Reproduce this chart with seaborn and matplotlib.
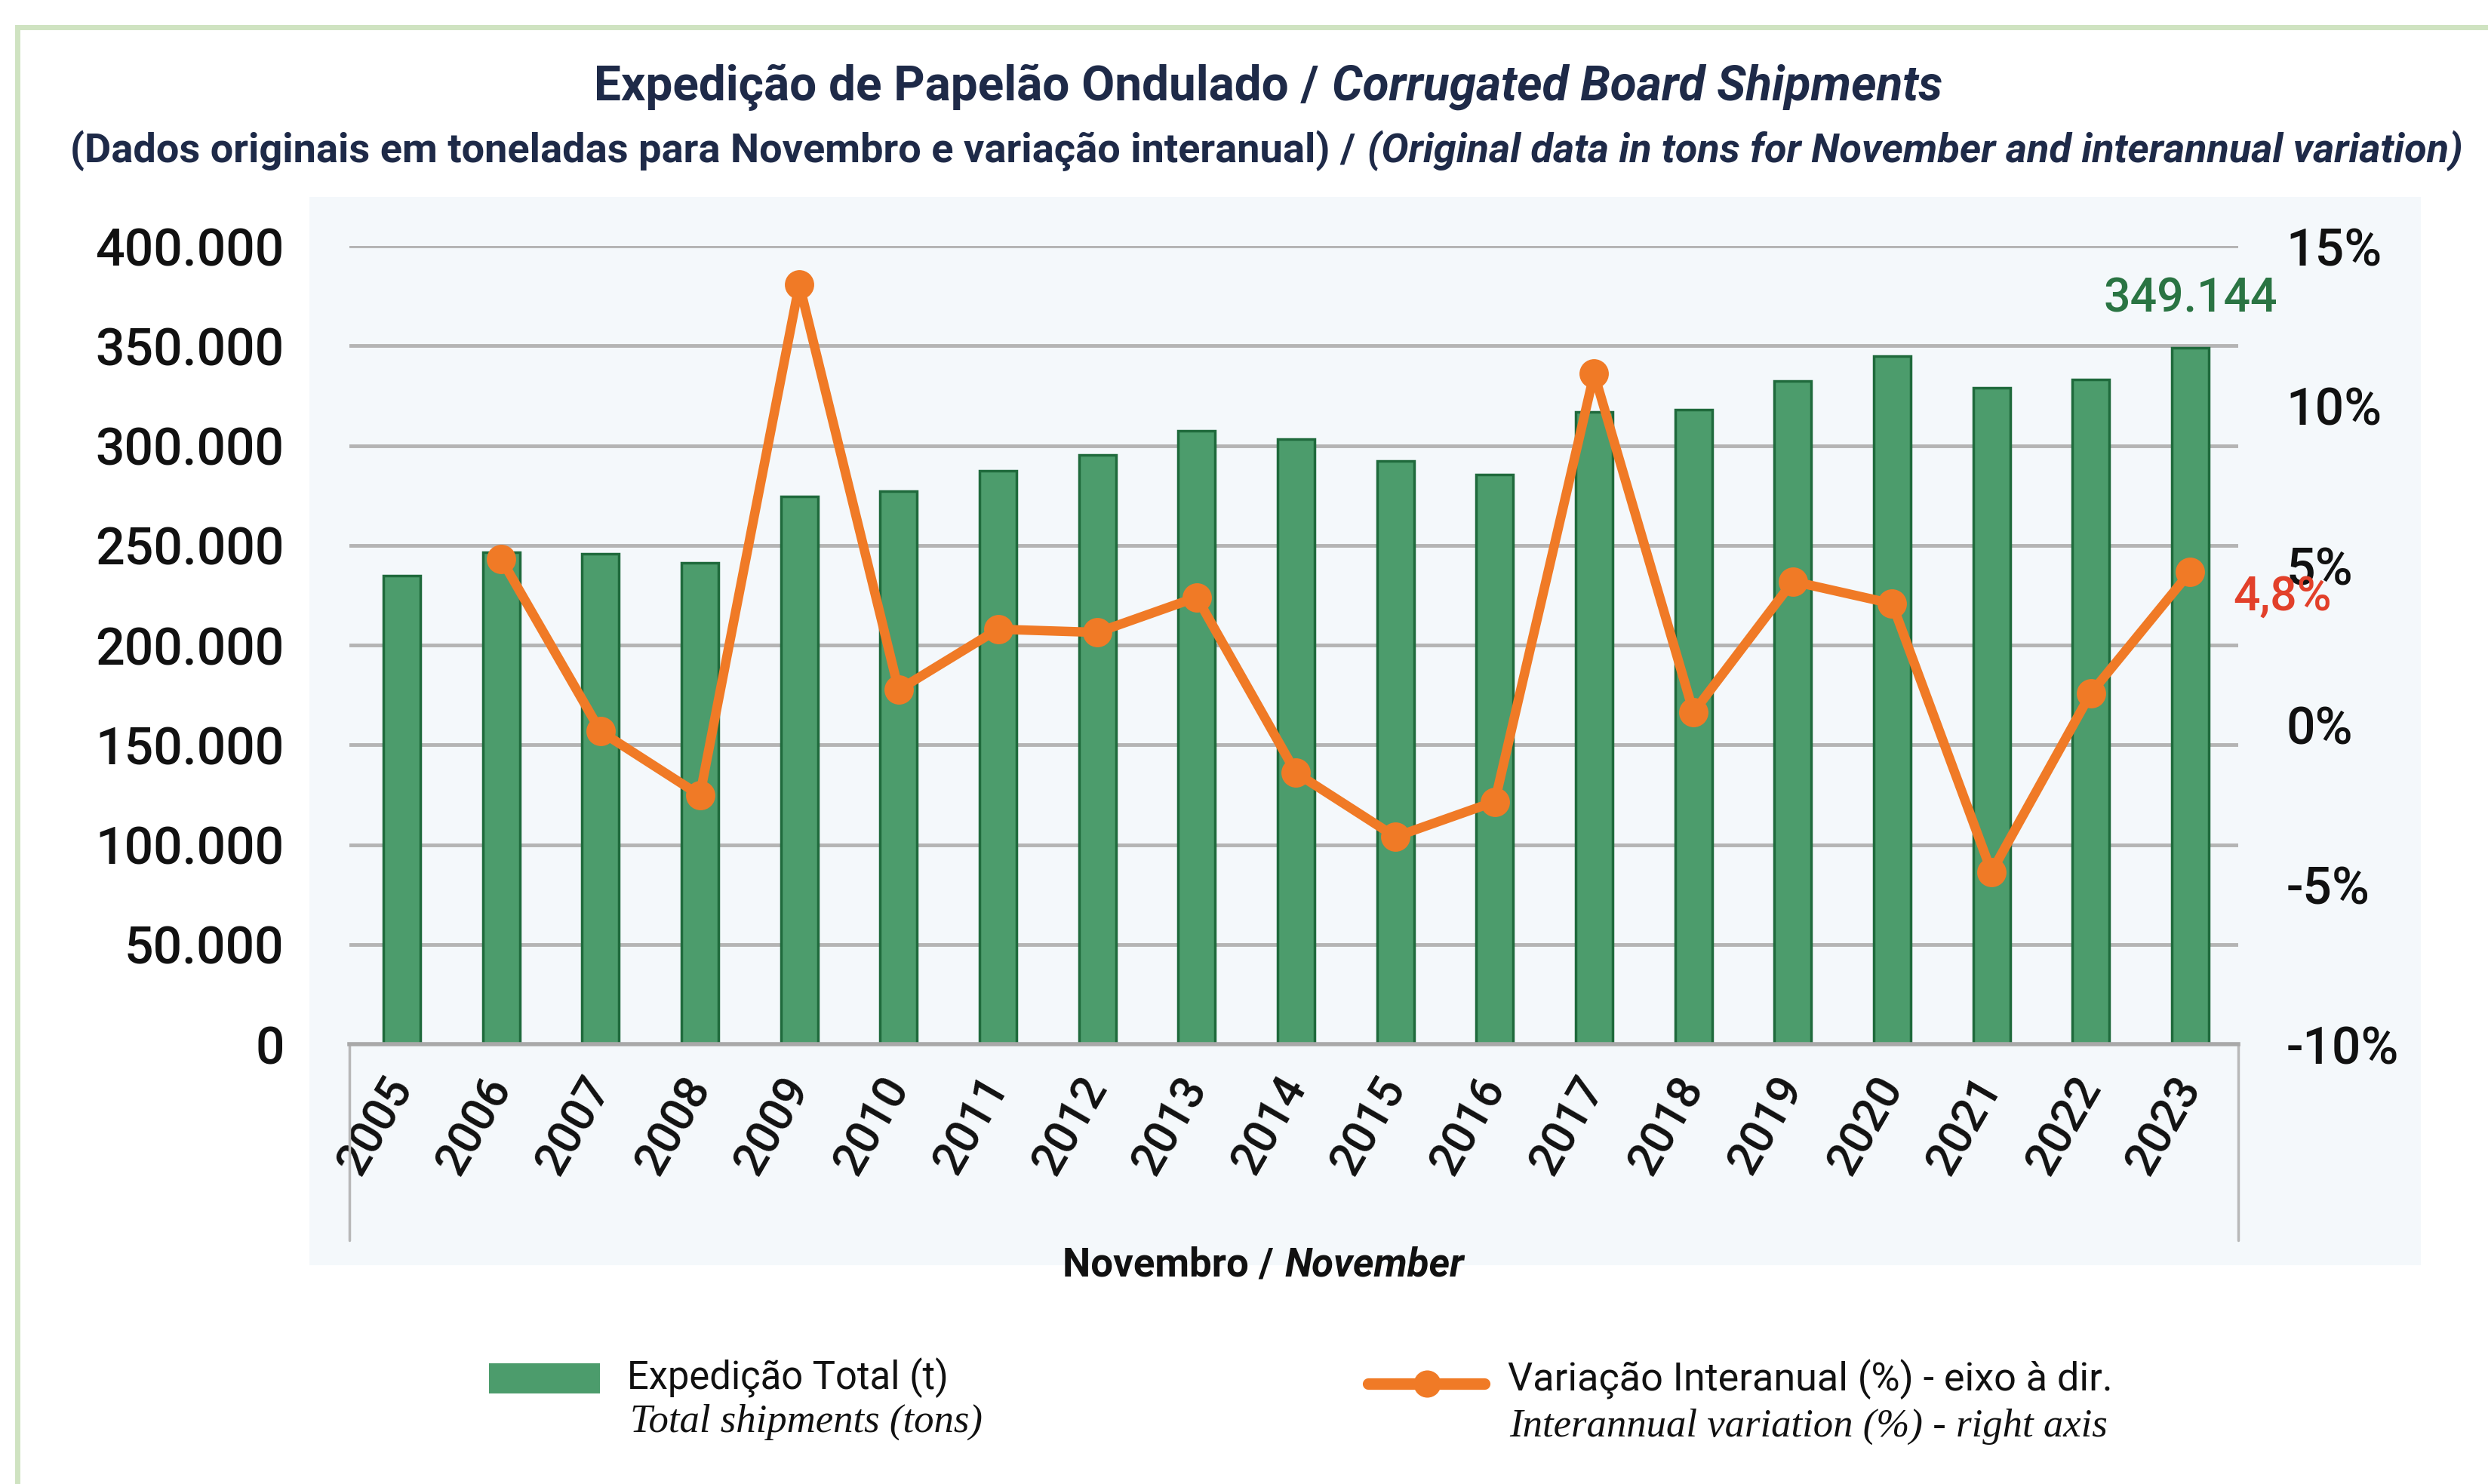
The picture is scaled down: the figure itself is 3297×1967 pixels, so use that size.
import numpy as np
import pandas as pd
import matplotlib
matplotlib.use("Agg")
import matplotlib.pyplot as plt
from matplotlib.patches import Rectangle
from matplotlib.lines import Line2D
from matplotlib.ticker import FuncFormatter
import seaborn as sns

# data (November of each year)
years = [str(y) for y in range(2005, 2024)]
shipments = [234700, 246400, 245800, 241400, 274700, 277200, 287500, 295300,
             307500, 303300, 292400, 285600, 316700, 318100, 332500, 344700,
             329000, 333000, 349144]
variation = [np.nan, 5.2, -0.2, -2.2, 13.8, 1.1, 3.0, 2.9, 4.0, -1.5, -3.5,
             -2.4, 11.0, 0.4, 4.5, 3.8, -4.6, 1.0, 4.8]
left_ticks = [0, 50000, 100000, 150000, 200000, 250000, 300000, 350000, 400000]
right_ticks = [-10, -5, 0, 5, 10, 15]

GREEN = "#4c9c6c"
GREEN_EDGE = "#1f6a3c"
ORANGE = "#f07a26"
NAVY = "#1e2a48"
GRID = "#b4b4b4"

sns.set_style("white")
plt.rcParams["font.family"] = ["Roboto", "DejaVu Sans"]

df = pd.DataFrame({"year": years, "shipments": shipments, "variation": variation})
df["pos"] = np.arange(len(df))

W, H = 3298, 1967
fig = plt.figure(figsize=(W / 100, H / 100), dpi=100)
fig.patch.set_facecolor("white")

# shrunk-reference coordinates -> figure fraction
def fx(px):
    return px / 1568

def fy(py):
    return 1 - py / 935

# outer frame and light plot panel
fig.patches.append(Rectangle((fx(11), -0.05), 1.2, fy(17) + 0.05, transform=fig.transFigure,
                             fill=False, edgecolor="#cfe3c1", lw=5, zorder=-20))
fig.patches.append(Rectangle((fx(195), fy(797)), fx(1525) - fx(195), fy(124) - fy(797),
                             transform=fig.transFigure, facecolor="#f4f8fb",
                             edgecolor="none", zorder=-10))

ax = fig.add_axes([fx(220), fy(658), fx(1410) - fx(220), fy(155) - fy(658)])
ax.patch.set_visible(False)

sns.barplot(data=df, x="year", y="shipments", color=GREEN, saturation=1, width=0.37,
            edgecolor=GREEN_EDGE, linewidth=2.5, ax=ax, zorder=2)

ax.set_ylim(0, 400000)
ax.set_yticks(left_ticks)
ax.yaxis.set_major_formatter(FuncFormatter(lambda v, p: f"{v:,.0f}".replace(",", ".")))
ax.yaxis.grid(True, color=GRID, lw=3.5, zorder=0)
ax.set_axisbelow(True)
for s in ["left", "right", "top"]:
    ax.spines[s].set_visible(False)
ax.spines["bottom"].set_color("#a9a9a9")
ax.spines["bottom"].set_linewidth(4)
ax.tick_params(axis="y", length=0, pad=62, labelsize=49, labelcolor="#111111")
ax.tick_params(axis="x", length=0, pad=34, labelsize=44, labelcolor="#111111")
for lab in ax.get_yticklabels():
    lab.set_fontweight("medium")
for lab in ax.get_xticklabels():
    lab.set_rotation(60)
    lab.set_ha("right")
    lab.set_va("center")
    lab.set_rotation_mode("anchor")
    lab.set_fontweight("medium")
ax.set_xlabel("")
ax.set_ylabel("")

# category box lines below the axis
for xa in [0, 1]:
    ax.add_line(Line2D([xa, xa], [0, -0.245], transform=ax.transAxes, clip_on=False,
                       color="#b8b8b8", lw=2.5))

ax2 = ax.twinx()
ax2.patch.set_visible(False)
sns.lineplot(data=df, x="pos", y="variation", ax=ax2, color=ORANGE, lw=9,
             marker="o", markersize=28, markeredgewidth=0, zorder=5)
ax2.set_ylim(-10, 15)
ax2.set_yticks(right_ticks)
ax2.set_yticklabels([f"{t}%" for t in right_ticks])
ax2.tick_params(axis="y", length=0, pad=46, labelsize=49, labelcolor="#111111")
for lab in ax2.get_yticklabels():
    lab.set_fontweight("medium")
for s in ax2.spines.values():
    s.set_visible(False)
ax2.set_xlabel("")
ax2.set_ylabel("")
ax.set_xlim(-0.53, len(years) - 1 + 0.48)

# data labels for the last year
last = len(years) - 1
ax.annotate(f"{shipments[-1]:,}".replace(",", "."), (last, shipments[-1]),
            xytext=(0, 46), textcoords="offset points", ha="center", va="center",
            fontsize=45, fontweight="medium", color="#2a7443")
ax2.annotate(f"{variation[-1]:.1f}%".replace(".", ","), (last, variation[-1]),
             xytext=(88, -24), textcoords="offset points", ha="center", va="center",
             fontsize=45, fontweight="medium", color="#e2402a", zorder=6)


def mixed(x, y, parts, size, color, gap=0.28):
    texts = [fig.text(0, y, s, fontsize=size, color=color, ha="left", va="center", **kw)
             for s, kw in parts]
    r = fig.canvas.get_renderer()
    widths = [t.get_window_extent(r).width / W for t in texts]
    g = gap * size * 100 / 72 / W
    total = sum(widths) + g * (len(texts) - 1)
    start = x - total / 2
    for t, w in zip(texts, widths):
        t.set_x(start)
        start += w + g


mixed(fx(799), fy(55), [("Expedição de Papelão Ondulado /", {"fontweight": "bold"}),
                        ("Corrugated Board Shipments", {"fontweight": "bold", "fontstyle": "italic"})],
      46, NAVY)
mixed(fx(798), fy(95), [("(Dados originais em toneladas para Novembro e variação interanual) /", {"fontweight": "bold"}),
                        ("(Original data in tons for November and interannual variation)", {"fontweight": "bold", "fontstyle": "italic"})],
      39, NAVY)
mixed(fx(796), fy(797), [("Novembro /", {"fontweight": "bold"}),
                         ("November", {"fontweight": "bold", "fontstyle": "italic"})],
      38, "#111111")

# legend
fig.patches.append(Rectangle((fx(308), fy(878)), fx(378) - fx(308), fy(859) - fy(878),
                             transform=fig.transFigure, facecolor=GREEN, edgecolor="none"))
fig.text(fx(395), fy(868), "Expedição Total (t)", fontsize=36.5, color="#111111", va="center")
fig.text(fx(397), fy(896), "Total shipments (tons)", fontsize=38, color="#111111", va="center",
         family="Liberation Serif", fontstyle="italic")
fig.lines.append(Line2D([fx(862), fx(935)], [fy(872), fy(872)], transform=fig.transFigure,
                        color=ORANGE, lw=11))
fig.lines.append(Line2D([fx(899)], [fy(872)], transform=fig.transFigure, color=ORANGE,
                        marker="o", markersize=26, markeredgewidth=0))
fig.text(fx(950), fy(869), "Variação Interanual (%) - eixo à dir.", fontsize=37.5, color="#111111",
         va="center")
fig.text(fx(951), fy(899), "Interannual variation (%) - right axis", fontsize=38, color="#111111",
         va="center", family="Liberation Serif", fontstyle="italic")

fig.savefig("out.png", dpi=100)
